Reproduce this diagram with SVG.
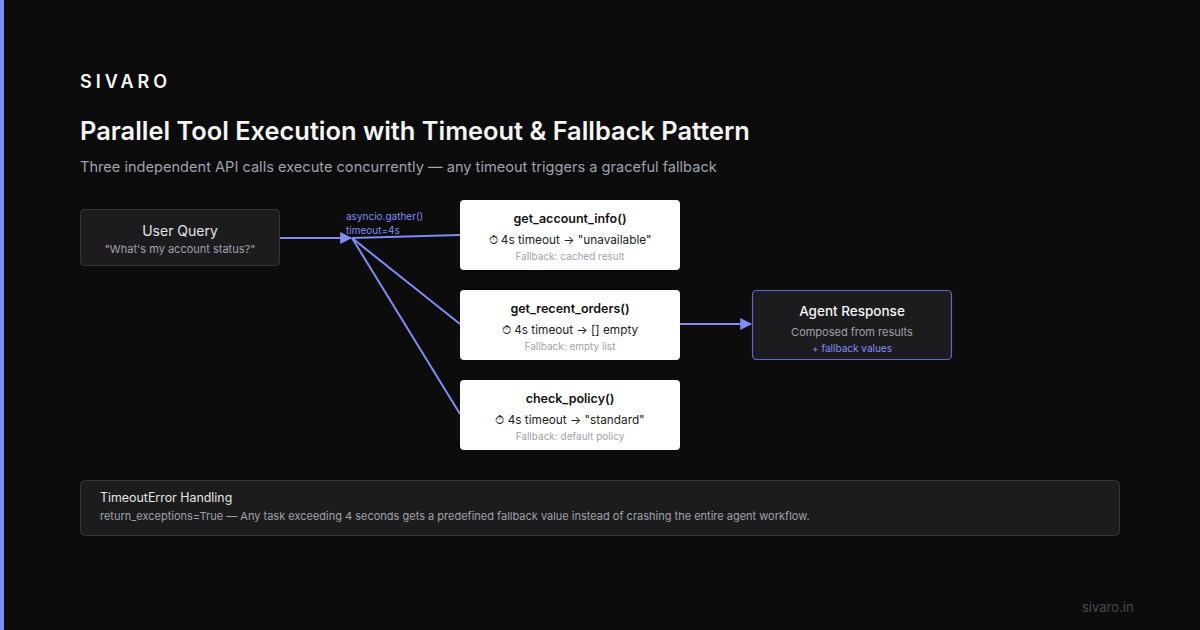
<svg xmlns="http://www.w3.org/2000/svg" width="1200" height="630" viewBox="0 0 1200 630">
<defs>
<style>
text{font-family:Inter,"Noto Sans","Liberation Sans",sans-serif}
.dark{fill:#1c1c1f;stroke:#34343a;stroke-width:1}
.light{fill:#ffffff}
.c{text-anchor:middle}
.fn{font-size:12.5px;font-weight:600;fill:#111111}
.to{font-size:11.8px;fill:#222222}
.fb{font-size:10px;fill:#a1a1aa}
.edge{stroke:#818cf8;stroke-width:2;fill:none}
</style>
<marker id="arr" viewBox="0 0 10 10" refX="9" refY="5" markerWidth="6" markerHeight="6" orient="auto" markerUnits="strokeWidth">
<path d="M0,0 L10,5 L0,10 z" fill="#818cf8"/>
</marker>
</defs>
<rect width="1200" height="630" fill="#0c0c0c"/>
<rect x="0" y="0" width="4" height="630" fill="#818cf8"/>
<text x="80" y="88" font-size="18" font-weight="600" fill="#f5f5f5" letter-spacing="4">SIVARO</text>
<text x="80" y="140" font-size="25.4" font-weight="600" fill="#f5f5f5">Parallel Tool Execution with Timeout &amp; Fallback Pattern</text>
<text x="80" y="172" font-size="14.6" fill="#9ca3af">Three independent API calls execute concurrently — any timeout triggers a graceful fallback</text>

<g id="connectors">
<line class="edge" x1="280" y1="238" x2="351" y2="238" marker-end="url(#arr)"/>
<line class="edge" x1="352" y1="238" x2="460" y2="235"/>
<line class="edge" x1="352" y1="238" x2="460" y2="324"/>
<line class="edge" x1="352" y1="238" x2="460" y2="414"/>
<line class="edge" x1="680" y1="324" x2="751" y2="324" marker-end="url(#arr)"/>
<text x="346" y="220" font-size="10" fill="#818cf8">asyncio.gather()</text>
<text x="346" y="234" font-size="10" fill="#818cf8">timeout=4s</text>
</g>

<g id="user-query">
<rect class="dark" x="80.5" y="209.5" width="199" height="56" rx="4"/>
<text class="c" x="180" y="236" font-size="14" fill="#e5e5e5">User Query</text>
<text class="c" x="180" y="253" font-size="11" fill="#a1a1aa">"What's my account status?"</text>
</g>

<g id="get-account-info">
<rect class="light" x="460" y="200" width="220" height="70" rx="4"/>
<text class="c fn" x="570" y="223">get_account_info()</text>
<text class="c to" x="570" y="244">⏱ 4s timeout → "unavailable"</text>
<text class="c fb" x="570" y="260">Fallback: cached result</text>
</g>

<g id="get-recent-orders">
<rect class="light" x="460" y="290" width="220" height="70" rx="4"/>
<text class="c fn" x="570" y="313">get_recent_orders()</text>
<text class="c to" x="570" y="334">⏱ 4s timeout → [] empty</text>
<text class="c fb" x="570" y="350">Fallback: empty list</text>
</g>

<g id="check-policy">
<rect class="light" x="460" y="380" width="220" height="70" rx="4"/>
<text class="c fn" x="570" y="403">check_policy()</text>
<text class="c to" x="570" y="424">⏱ 4s timeout → "standard"</text>
<text class="c fb" x="570" y="440">Fallback: default policy</text>
</g>

<g id="agent-response">
<rect x="752.5" y="290.5" width="199" height="69" rx="4" fill="#1c1c1f" stroke="#6366d1" stroke-width="1.2"/>
<text class="c" x="852" y="316" font-size="13.5" font-weight="500" fill="#f5f5f5">Agent Response</text>
<text class="c" x="852" y="336" font-size="11" fill="#a1a1aa">Composed from results</text>
<text class="c" x="852" y="352" font-size="10" fill="#818cf8">+ fallback values</text>
</g>

<g id="timeout-handling">
<rect class="dark" x="80.5" y="480.5" width="1039" height="55" rx="4" stroke="#2e2e33"/>
<text x="100" y="502" font-size="12.4" fill="#e5e5e5">TimeoutError Handling</text>
<text x="100" y="520" font-size="11" fill="#a1a1aa">return_exceptions=True — Any task exceeding 4 seconds gets a predefined fallback value instead of crashing the entire agent workflow.</text>
</g>

<text x="1082" y="612" font-size="13" fill="#4a4a4f">sivaro.in</text>
</svg>
